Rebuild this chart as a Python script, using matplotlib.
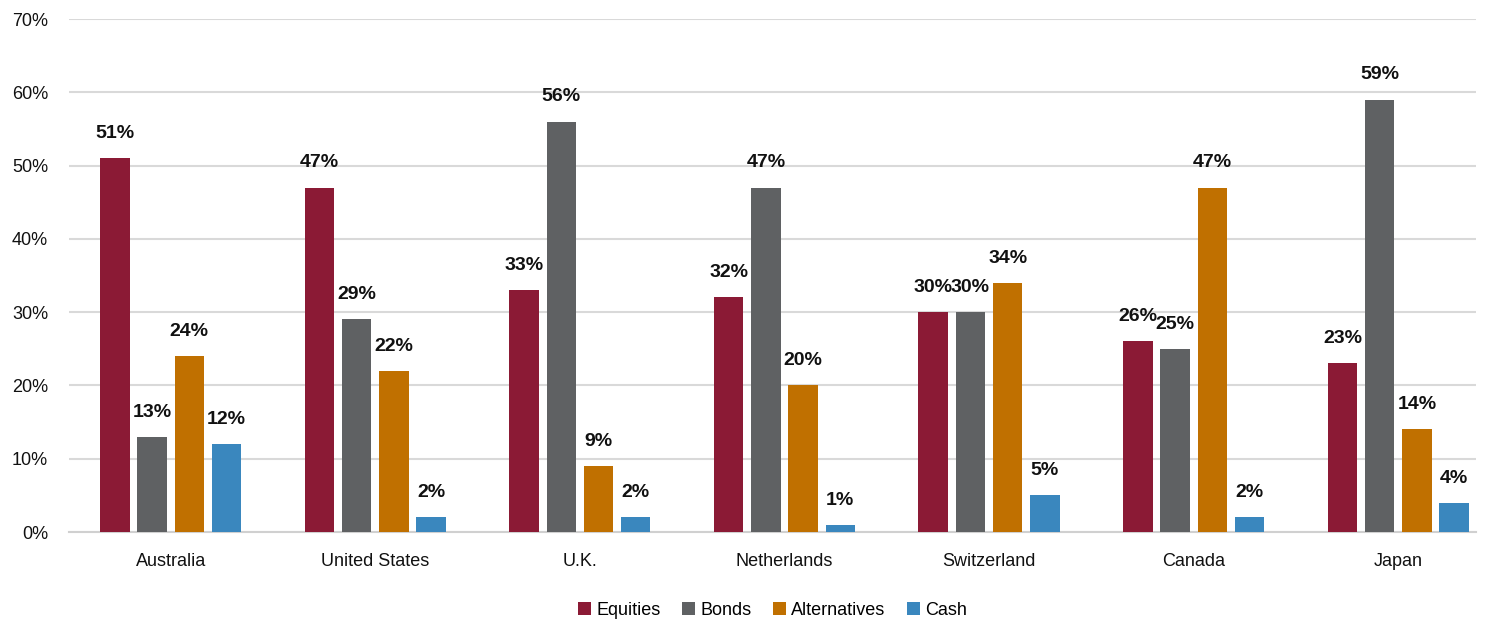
import matplotlib.pyplot as plt
import numpy as np

countries = ["Australia", "United States", "U.K.", "Netherlands", "Switzerland", "Canada", "Japan"]
equities = [51, 47, 33, 32, 30, 26, 23]
bonds = [13, 29, 56, 47, 30, 25, 59]
alternatives = [24, 22, 9, 20, 34, 47, 14]
cash = [12, 2, 2, 1, 5, 2, 4]

series = [("Equities", equities, "#8B1A35"),
          ("Bonds", bonds, "#5F6163"),
          ("Alternatives", alternatives, "#C07000"),
          ("Cash", cash, "#3A87BE")]

plt.rcParams["font.family"] = ["Liberation Sans Narrow", "Liberation Sans", "DejaVu Sans"]

fig = plt.figure(figsize=(14.86, 6.21), dpi=100)
ax = fig.add_axes([69 / 1486, 0.1433, 1407 / 1486, 0.8261])

x = np.arange(len(countries))
width = 0.144
pitch = 0.182

for i, (name, vals, color) in enumerate(series):
    pos = x + (i - 1.5) * pitch
    ax.bar(pos, vals, width, color=color, label=name, zorder=3)
    for px, v in zip(pos, vals):
        ax.text(px, v + 2.2, f"{v}%", ha="center", va="bottom",
                fontsize=14, fontweight="bold", color="#111111")

ax.set_ylim(0, 70)
ax.set_xlim(-0.497, 6.38)
ax.set_yticks(range(0, 71, 10))
ax.set_yticklabels([f"{t}%" for t in range(0, 71, 10)])
ax.set_xticks(x)
ax.set_xticklabels(countries)
ax.tick_params(axis="both", length=0, labelsize=13, colors="#111111")
ax.tick_params(axis="y", pad=15)
ax.tick_params(axis="x", pad=15)
ax.grid(axis="y", color="#D9D9D9", linewidth=1.5, zorder=0)
for s in ["top", "right", "left"]:
    ax.spines[s].set_visible(False)
ax.spines["bottom"].set_color("#D0D0D0")
ax.spines["bottom"].set_linewidth(1.5)

ax.legend(loc="upper center", bbox_to_anchor=(0.5, -0.105), ncol=4, frameon=False,
          fontsize=13, handlelength=0.7, handleheight=0.7, handletextpad=0.3,
          columnspacing=1.2)

fig.savefig("out.png", dpi=100)
